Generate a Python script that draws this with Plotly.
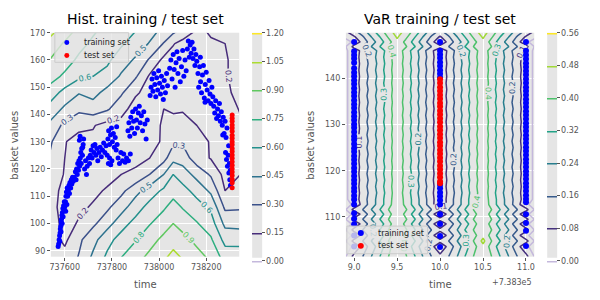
import plotly.graph_objects as go

# ---------------- Left panel: historical data ----------------
hist_grid_time = [737535, 737600, 737660, 737720, 737780, 737840, 737900, 737960,
                  738020, 738060, 738100, 738160, 738220, 738280, 738345]
hist_grid_value = [87.5, 94, 100, 106, 112, 118, 124, 130, 136, 142, 148, 154, 160, 166, 170.5]
hist_level = [
    [0.22, 0.20, 0.31, 0.48, 0.63, 0.75, 0.84, 0.94, 1.03, 1.09, 1.04, 0.96, 0.87, 0.69, 0.68],
    [0.22, 0.12, 0.27, 0.40, 0.55, 0.66, 0.74, 0.84, 0.94, 1.00, 0.95, 0.86, 0.77, 0.55, 0.55],
    [0.22, 0.11, 0.16, 0.27, 0.39, 0.54, 0.65, 0.74, 0.83, 0.90, 0.84, 0.76, 0.67, 0.41, 0.40],
    [0.20, 0.10, 0.13, 0.16, 0.27, 0.39, 0.53, 0.65, 0.73, 0.80, 0.74, 0.66, 0.57, 0.27, 0.28],
    [0.21, 0.11, 0.11, 0.13, 0.16, 0.26, 0.40, 0.52, 0.63, 0.70, 0.65, 0.55, 0.42, 0.15, 0.17],
    [0.25, 0.14, 0.10, 0.11, 0.12, 0.15, 0.18, 0.30, 0.45, 0.60, 0.53, 0.40, 0.28, 0.10, 0.15],
    [0.29, 0.15, 0.10, 0.09, 0.09, 0.09, 0.11, 0.15, 0.25, 0.40, 0.38, 0.22, 0.14, 0.09, 0.13],
    [0.33, 0.16, 0.08, 0.12, 0.09, 0.10, 0.11, 0.10, 0.17, 0.27, 0.28, 0.20, 0.14, 0.08, 0.13],
    [0.42, 0.26, 0.20, 0.16, 0.10, 0.10, 0.08, 0.09, 0.17, 0.20, 0.19, 0.15, 0.11, 0.08, 0.13],
    [0.55, 0.42, 0.33, 0.38, 0.32, 0.20, 0.09, 0.09, 0.15, 0.13, 0.14, 0.13, 0.08, 0.09, 0.16],
    [0.68, 0.55, 0.46, 0.50, 0.40, 0.32, 0.17, 0.10, 0.08, 0.10, 0.11, 0.09, 0.08, 0.13, 0.18],
    [0.82, 0.72, 0.63, 0.60, 0.55, 0.43, 0.32, 0.13, 0.08, 0.09, 0.09, 0.11, 0.09, 0.14, 0.19],
    [0.90, 0.82, 0.72, 0.67, 0.63, 0.52, 0.43, 0.28, 0.11, 0.08, 0.08, 0.08, 0.11, 0.14, 0.19],
    [1.00, 0.88, 0.80, 0.72, 0.67, 0.62, 0.53, 0.44, 0.29, 0.16, 0.10, 0.08, 0.14, 0.15, 0.19],
    [1.10, 0.98, 0.85, 0.77, 0.70, 0.66, 0.60, 0.50, 0.41, 0.33, 0.25, 0.13, 0.16, 0.17, 0.20],
]

hist_train_time = [
    737572, 737574, 737576, 737578, 737580, 737581, 737583, 737585, 737586, 737588, 737590, 737592, 737595, 737598, 737584, 737589, 737579, 737593,
    737600, 737603, 737605, 737607, 737610, 737612, 737615, 737618, 737620, 737622, 737625, 737628, 737630, 737633, 737636, 737604, 737609,
    737640, 737645, 737648, 737650, 737653, 737655, 737658, 737660, 737663, 737666, 737668, 737670, 737672, 737675, 737678, 737680, 737662, 737665, 737676, 737684, 737688, 737692, 737695, 737700, 737705, 737708,
    737712, 737716, 737720, 737724, 737728, 737732, 737736, 737740, 737745, 737750, 737755, 737760, 737765, 737770, 737775, 737780, 737785, 737790, 737795, 737800,
    737783, 737786, 737790, 737794, 737798, 737802, 737806, 737810, 737814, 737818, 737822, 737820, 737826, 737832, 737838, 737845, 737850, 737856, 737862, 737870, 737878,
    737868, 737872, 737876, 737880, 737884, 737888, 737892, 737896, 737900, 737904, 737908, 737912, 737916, 737920, 737925, 737930, 737935, 737940, 737945, 737950,
    737962, 737966, 737970, 737974, 737978, 737982, 737986, 737990, 737994, 737998, 738002, 738006, 738010, 738014, 738018, 738022, 738027, 738032, 738036,
    738045, 738050, 738055, 738060, 738064, 738068, 738072, 738076, 738080, 738085, 738090, 738095, 738100, 738105, 738110, 738115,
    738120, 738124, 738128, 738132, 738136, 738140, 738144, 738148, 738152, 738156, 738160,
    738165, 738168, 738172, 738176, 738180, 738184, 738188, 738192, 738196, 738200, 738204, 738208, 738212, 738216, 738220, 738224, 738228, 738175, 738195,
    738232, 738236, 738240, 738244, 738248, 738252, 738256, 738260, 738264,
    738268, 738272, 738276, 738280, 738284, 738288, 738270,
    738282, 738286, 738290, 738293, 738296, 738298, 738300, 738302, 738303, 738295,
]
hist_train_value = [
    91.5, 92.5, 94.0, 95.5, 96.5, 98.0, 99.0, 100.5, 101.5, 103.0, 104.0, 105.5, 106.5, 108.0, 97.0, 100.0, 93.5, 102.5,
    106.0, 108.0, 110.0, 111.5, 113.0, 110.0, 112.0, 114.0, 111.0, 115.0, 113.0, 116.0, 114.5, 117.0, 115.5, 104.5, 107.0,
    117.0, 119.0, 116.0, 120.0, 118.0, 122.0, 119.5, 123.0, 121.0, 124.0, 126.0, 122.0, 127.5, 125.0, 129.0, 131.0, 130.5, 132.0, 128.0, 120.0, 123.0, 118.0, 121.0, 124.0, 122.0, 125.0,
    127.0, 124.0, 128.5, 126.0, 129.0, 125.0, 127.5, 123.0, 126.0, 128.0, 124.5, 127.0, 129.5, 126.0, 128.5, 125.0, 122.0, 124.0, 121.5, 123.0,
    131.0, 134.0, 129.0, 132.5, 135.0, 130.0, 133.0, 128.0, 131.5, 127.0, 129.0, 135.5, 124.0, 122.0, 126.0, 123.0, 125.5, 122.5, 124.0, 123.0, 125.5,
    134.0, 137.0, 132.0, 139.0, 135.0, 141.0, 137.5, 133.0, 142.0, 138.0, 135.0, 140.5, 143.0, 137.0, 139.5, 134.0, 141.0, 136.5, 131.0, 138.0,
    147.0, 150.0, 153.0, 148.5, 155.0, 151.0, 146.5, 153.5, 149.0, 156.0, 151.5, 147.5, 154.0, 150.0, 145.5, 152.5, 148.0, 155.0, 150.5,
    157.0, 160.0, 153.0, 162.0, 156.5, 150.0, 159.0, 163.0, 155.0, 160.5, 152.0, 157.5, 163.5, 154.0, 160.0, 156.0,
    164.0, 167.0, 161.0, 165.5, 162.5, 166.5, 160.5, 164.0, 158.0, 162.0, 159.5,
    155.0, 150.0, 157.5, 152.0, 148.0, 154.5, 158.0, 146.0, 151.0, 155.5, 149.0, 145.0, 152.5, 147.5, 144.0, 150.0, 146.5, 161.0, 144.5,
    143.0, 140.5, 145.0, 138.5, 142.0, 139.5, 144.0, 137.5, 141.0,
    136.0, 139.0, 133.0, 137.5, 131.5, 135.0, 132.5,
    126.0, 123.5, 121.0, 125.0, 118.5, 122.0, 116.0, 119.5, 114.0, 128.5,
]
hist_test_time = [738310] * 22
hist_test_value = [139.8, 138.6, 137.5, 136.1, 135.0, 133.8, 132.4, 131.3, 130.0, 128.9, 127.5,
                   126.4, 125.1, 123.9, 122.6, 121.4, 120.1, 118.9, 117.6, 116.2, 114.9, 113.1]

hist_levels_ticks = [0.0, 0.15, 0.30, 0.45, 0.60, 0.75, 0.90, 1.05, 1.20]
hist_time_ticks = [737600, 737800, 738000, 738200]
hist_value_ticks = [90, 100, 110, 120, 130, 140, 150, 160, 170]

# ---------------- Right panel: VaR data ----------------
var_grid_time = [738308.9, 738309.0, 738309.1, 738309.2, 738309.3, 738309.4, 738309.5, 738309.6,
                 738309.7, 738309.8, 738309.9, 738310.0, 738310.1, 738310.2, 738310.3, 738310.4,
                 738310.5, 738310.6, 738310.7, 738310.8, 738310.9, 738311.0, 738311.1]
var_profile = {
    "bar_a": [-0.01, 0.03, 0.11, 0.19, 0.27, 0.36, 0.45, 0.37, 0.28, 0.19, 0.10, 0.01, 0.10, 0.19, 0.28, 0.37, 0.45, 0.36, 0.27, 0.19, 0.11, 0.03, -0.01],
    "bar_b": [-0.01, 0.03, 0.12, 0.20, 0.28, 0.37, 0.45, 0.38, 0.29, 0.20, 0.11, 0.01, 0.11, 0.20, 0.29, 0.38, 0.45, 0.37, 0.28, 0.20, 0.12, 0.03, -0.01],
    "dot":   [-0.02, 0.01, 0.11, 0.20, 0.28, 0.37, 0.46, 0.38, 0.29, 0.20, 0.11, 0.00, 0.11, 0.20, 0.29, 0.38, 0.46, 0.37, 0.28, 0.20, 0.11, 0.01, -0.02],
    "gap":   [-0.005, 0.11, 0.16, 0.24, 0.32, 0.40, 0.47, 0.41, 0.33, 0.24, 0.16, 0.11, 0.16, 0.24, 0.33, 0.41, 0.47, 0.40, 0.32, 0.24, 0.16, 0.11, -0.005],
    "gap_hi":[-0.005, 0.11, 0.16, 0.24, 0.32, 0.40, 0.47, 0.41, 0.33, 0.24, 0.16, 0.11, 0.16, 0.24, 0.33, 0.41, 0.50, 0.40, 0.32, 0.24, 0.16, 0.11, -0.005],
    "top1":  [0.01, 0.07, 0.15, 0.24, 0.32, 0.41, 0.49, 0.42, 0.33, 0.24, 0.15, 0.07, 0.15, 0.24, 0.33, 0.42, 0.49, 0.41, 0.32, 0.24, 0.15, 0.07, 0.01],
    "top2":  [0.06, 0.13, 0.20, 0.28, 0.36, 0.44, 0.52, 0.45, 0.37, 0.28, 0.20, 0.13, 0.20, 0.28, 0.37, 0.45, 0.52, 0.44, 0.36, 0.28, 0.20, 0.13, 0.06],
}
var_grid_value = [101.4, 103.6, 104.8, 106.0, 107.2, 108.5, 109.5, 110.6, 111.6, 112.7,
                  113.8, 115.2, 116.6, 118.0, 119.4, 120.8, 122.2, 123.6, 125.0, 126.4,
                  127.8, 129.2, 130.6, 132.0, 133.4, 134.8, 136.2, 137.6, 139.0, 140.4,
                  141.8, 143.2, 144.6, 146.0, 146.9, 147.9, 149.0, 150.0]
var_row_kind = ["gap", "dot", "gap_hi", "dot", "gap", "dot", "gap", "dot", "gap", "dot",
                "bar_b", "bar_a", "bar_b", "bar_a", "bar_b", "bar_a", "bar_b", "bar_a", "bar_b", "bar_a",
                "bar_b", "bar_a", "bar_b", "bar_a", "bar_b", "bar_a", "bar_b", "bar_a", "bar_b", "bar_a",
                "bar_b", "bar_a", "bar_b", "bar_a", "gap", "dot", "top1", "top2"]
var_level = [var_profile[k] for k in var_row_kind]

var_day9_value = [147.9, 145.9, 145.1, 144.3, 143.4, 142.2, 141.3, 140.5, 139.6, 138.8, 137.9, 137.0,
                  136.2, 135.3, 134.4, 133.6, 132.7, 131.8, 131.0, 130.1, 129.3, 128.4, 127.5, 126.7,
                  125.8, 124.9, 124.1, 123.2, 122.4, 121.5, 120.6, 119.8, 118.9, 118.0, 117.2, 116.3,
                  115.5, 114.6, 113.8, 112.7, 110.8, 109.6, 108.4, 106.0, 103.6]
var_day10_value = [147.9, 146.0, 145.2, 144.4, 143.5, 142.7, 141.8, 141.0, 140.2,
                   117.0, 116.2, 115.3, 114.5, 113.6, 112.7, 110.6, 108.5, 105.9, 103.5]
var_day11_value = [147.9, 146.0, 145.1, 144.2, 143.3, 142.5, 141.6, 140.8, 139.9, 139.0, 138.1, 137.3,
                   136.4, 135.5, 134.7, 133.8, 132.9, 132.1, 131.2, 130.3, 129.5, 128.6, 127.7, 126.9,
                   126.0, 125.1, 124.3, 123.4, 122.5, 121.7, 120.8, 119.9, 119.1, 118.2, 117.3, 116.5,
                   115.6, 114.7, 113.9, 113.2, 110.6, 108.7, 107.0, 103.7]
var_test_value = [139.8, 139.0, 138.1, 137.3, 136.4, 135.6, 134.7, 133.9, 133.0, 132.2, 131.3, 130.5,
                  129.6, 128.8, 127.9, 127.1, 126.2, 125.4, 124.5, 123.7, 122.8, 122.0, 121.1, 120.3,
                  119.4, 118.6, 117.7, 117.3]
var_train_time = [738309] * len(var_day9_value) + [738310] * len(var_day10_value) + [738311] * len(var_day11_value)
var_train_value = var_day9_value + var_day10_value + var_day11_value
var_test_time = [738310] * len(var_test_value)

var_levels_ticks = [0.0, 0.08, 0.16, 0.24, 0.32, 0.40, 0.48, 0.56]
var_time_ticks = [738309, 738309.5, 738310, 738310.5, 738311]
var_time_ticktext = ["9.0", "9.5", "10.0", "10.5", "11.0"]
var_value_ticks = [110, 120, 130, 140]

legend_labels = ["training set", "test set"]
legend_colors = ["#0000FF", "#FF0000"]

# ---------------- Figure ----------------
W, H = 600, 300
OFF = 8  # page body margin of the browser
FONT = "DejaVu Sans"
GRAY = "#555555"
BG = "#E5E5E5"
LEVEL_SCALE = [[0.0, "#c4b8dc"], [0.002, "#440154"], [0.1111, "#482878"], [0.2222, "#3e4989"],
               [0.3333, "#31688e"], [0.4444, "#26828e"], [0.5556, "#1f9e89"], [0.6667, "#35b779"],
               [0.7778, "#6ece58"], [0.8889, "#b5de2b"], [1.0, "#fde725"]]


def px(x):
    return (x - OFF) / W


def py(y):
    return 1 - (y - OFF) / H


fig = go.Figure()


def colorbar(xleft, ticks):
    return dict(
        x=px(xleft), xanchor="left", xpad=0,
        y=py(29), yanchor="top", ypad=0,
        len=228, lenmode="pixels", thickness=10, thicknessmode="pixels",
        outlinewidth=0, ticks="outside", ticklen=3, tickcolor=GRAY, tickwidth=1,
        tickvals=ticks, tickformat=".2f",
        tickfont=dict(family=FONT, size=8, color=GRAY),
    )


fig.add_trace(go.Contour(
    x=hist_grid_time, y=hist_grid_value, z=hist_level,
    colorscale=LEVEL_SCALE, autocontour=False,
    contours=dict(start=1e-9, end=1.2 + 1e-9, size=0.15, coloring="lines",
                  showlabels=True, labelformat=".1f",
                  labelfont=dict(family=FONT, size=8)),
    line=dict(width=1.5, smoothing=0),
    colorbar=colorbar(252, hist_levels_ticks),
    xaxis="x", yaxis="y", showlegend=False, hoverinfo="skip",
))
fig.add_trace(go.Contour(
    x=var_grid_time, y=var_grid_value, z=var_level,
    colorscale=LEVEL_SCALE, autocontour=False,
    contours=dict(start=1e-9, end=0.56 + 1e-9, size=0.08, coloring="lines",
                  showlabels=True, labelformat=".1f",
                  labelfont=dict(family=FONT, size=8)),
    line=dict(width=1.5, smoothing=0),
    colorbar=colorbar(548, var_levels_ticks),
    xaxis="x2", yaxis="y2", showlegend=False, hoverinfo="skip",
))

fig.add_trace(go.Scatter(x=hist_train_time, y=hist_train_value, mode="markers",
                         marker=dict(color=legend_colors[0], size=5), name=legend_labels[0],
                         xaxis="x", yaxis="y", showlegend=False))
fig.add_trace(go.Scatter(x=hist_test_time, y=hist_test_value, mode="markers",
                         marker=dict(color=legend_colors[1], size=5), name=legend_labels[1],
                         xaxis="x", yaxis="y", showlegend=False))
fig.add_trace(go.Scatter(x=var_train_time, y=var_train_value, mode="markers",
                         marker=dict(color=legend_colors[0], size=6), name=legend_labels[0],
                         xaxis="x2", yaxis="y2", showlegend=False))
fig.add_trace(go.Scatter(x=var_test_time, y=var_test_value, mode="markers",
                         marker=dict(color=legend_colors[1], size=6), name=legend_labels[1],
                         xaxis="x2", yaxis="y2", showlegend=False))

axis_common = dict(showgrid=True, gridcolor="white", gridwidth=1, zeroline=False,
                   ticks="outside", ticklen=3, tickcolor=GRAY, showline=False,
                   tickfont=dict(family=FONT, size=8, color=GRAY))

shapes = [
    dict(type="rect", xref="paper", yref="paper", x0=px(252), x1=px(262),
         y0=py(257), y1=py(29), fillcolor=BG, line=dict(width=0), layer="below"),
    dict(type="rect", xref="paper", yref="paper", x0=px(548), x1=px(558),
         y0=py(257), y1=py(29), fillcolor=BG, line=dict(width=0), layer="below"),
]
annotations = [
    dict(text="Hist. training / test set", x=px(144.5), y=py(15)),
    dict(text="VaR training / test set", x=px(440.5), y=py(15)),
    dict(text="time", x=px(144.5), y=py(284)),
    dict(text="time", x=px(440.5), y=py(284)),
    dict(text="basket values", x=px(14), y=py(142.5), textangle=-90),
    dict(text="basket values", x=px(311), y=py(142.5), textangle=-90),
    dict(text="+7.383e5", x=px(535), y=py(282), xanchor="right"),
]
for a in annotations:
    a.setdefault("xanchor", "center")
    a.update(yanchor="middle", xref="paper", yref="paper", showarrow=False)
    if a["text"].startswith(("Hist", "VaR")):
        a["font"] = dict(family=FONT, size=14, color="black")
    elif a["text"].startswith("+"):
        a["font"] = dict(family=FONT, size=8, color=GRAY)
    else:
        a["font"] = dict(family=FONT, size=10, color=GRAY)

# hand-placed legends (matplotlib style boxes)
legend_boxes = [
    dict(x0=54, x1=128, y0=29, y1=59, mx=66, tx=81, ys=[39, 52], ms=5),
    dict(x0=347, x1=428, y0=225, y1=253, mx=361, tx=376, ys=[232, 245], ms=6),
]
for box in legend_boxes:
    shapes.append(dict(type="rect", xref="paper", yref="paper",
                       x0=px(box["x0"]), x1=px(box["x1"]), y0=py(box["y1"]), y1=py(box["y0"]),
                       fillcolor="rgba(229,229,229,0.8)", line=dict(color="#CCCCCC", width=1),
                       layer="above"))
    for label, color, yy in zip(legend_labels, legend_colors, box["ys"]):
        r = box["ms"] / 2
        shapes.append(dict(type="circle", xref="paper", yref="paper",
                           x0=px(box["mx"] - r), x1=px(box["mx"] + r),
                           y0=py(yy + r), y1=py(yy - r),
                           fillcolor=color, line=dict(width=0), layer="above"))
        annotations.append(dict(text=label, x=px(box["tx"]), y=py(yy), xref="paper", yref="paper",
                                xanchor="left", yanchor="middle", showarrow=False,
                                font=dict(family=FONT, size=8, color="#222222")))

fig.update_layout(
    width=W, height=H,
    margin=dict(l=0, r=0, t=0, b=0),
    paper_bgcolor="white", plot_bgcolor=BG,
    font=dict(family=FONT, color=GRAY),
    showlegend=False,
    xaxis=dict(domain=[px(50), px(239)], range=[737541, 738340],
               tickvals=hist_time_ticks, tickformat="d", anchor="y", **axis_common),
    yaxis=dict(domain=[py(256), py(29)], range=[87.8, 170],
               tickvals=hist_value_ticks, anchor="x", **axis_common),
    xaxis2=dict(domain=[px(346), px(535)], range=[738308.904, 738311.096],
                tickvals=var_time_ticks, ticktext=var_time_ticktext, anchor="y2", **axis_common),
    yaxis2=dict(domain=[py(256), py(29)], range=[101.4, 149.9],
                tickvals=var_value_ticks, anchor="x2", **axis_common),
    shapes=shapes,
    annotations=annotations,
)

fig.write_html("out.html")
